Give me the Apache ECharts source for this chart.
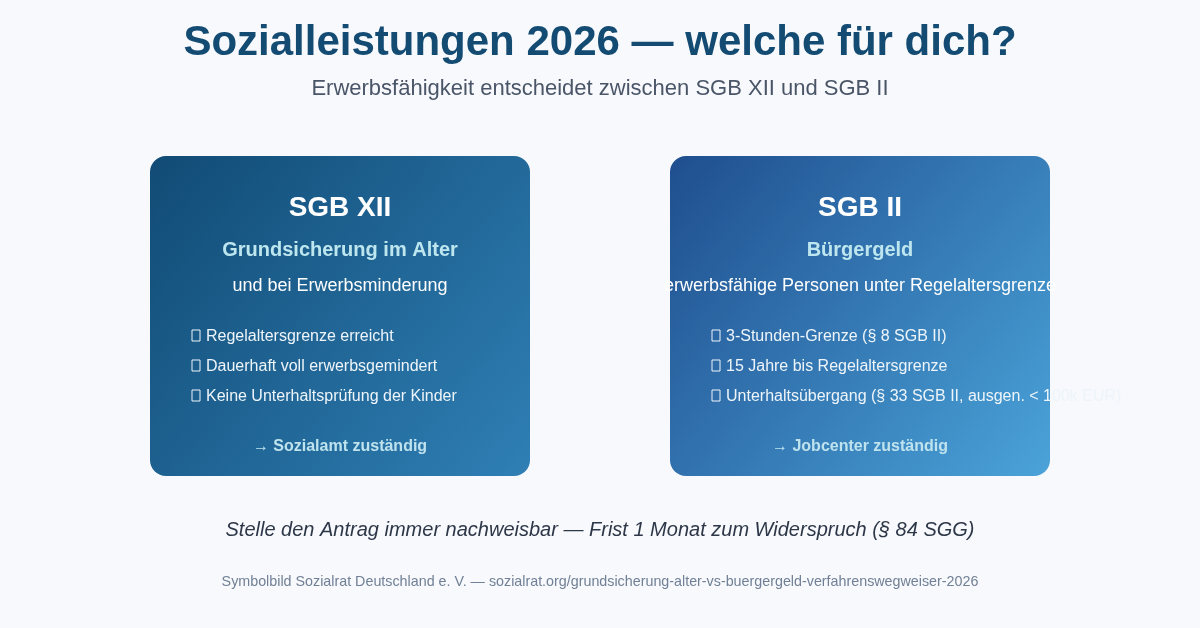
<!DOCTYPE html>
<html><head><meta charset="utf-8">
<script src="https://cdn.jsdelivr.net/npm/echarts@6/dist/echarts.min.js"></script>
<style>html,body{margin:0;padding:0;background:#f7f9fc}#c{width:1200px;height:628px}</style>
</head><body><div id="c"></div>
<script>
const title = "Sozialleistungen 2026 — welche für dich?";
const subtitle = "Erwerbsfähigkeit entscheidet zwischen SGB XII und SGB II";
const cardTitles = ["SGB XII", "SGB II"];
const cardSubtitles = ["Grundsicherung im Alter", "Bürgergeld"];
const cardLines = ["und bei Erwerbsminderung", "erwerbsfähige Personen unter Regelaltersgrenze"];
const bulletsLeft = ["Regelaltersgrenze erreicht", "Dauerhaft voll erwerbsgemindert", "Keine Unterhaltsprüfung der Kinder"];
const bulletsRight = ["3-Stunden-Grenze (§ 8 SGB II)", "15 Jahre bis Regelaltersgrenze", "Unterhaltsübergang (§ 33 SGB II, ausgen. < 100k EUR)"];
const cardFooters = ["→ Sozialamt zuständig", "→ Jobcenter zuständig"];
const note = "Stelle den Antrag immer nachweisbar — Frist 1 Monat zum Widerspruch (§ 84 SGG)";
const source = "Symbolbild Sozialrat Deutschland e. V. — sozialrat.org/grundsicherung-alter-vs-buergergeld-verfahrenswegweiser-2026";

const F = "'Liberation Sans', Arial, sans-serif";
const chart = echarts.init(document.getElementById('c'));
const els = [];
function txt(x, y, s, size, color, weight, align, style) {
  els.push({type:'text', x, y, style:{text:s, fontSize:size, fill:color, fontWeight:weight||'normal',
    fontStyle:style||'normal', fontFamily:F, align:align||'center', verticalAlign:'middle'}});
}
txt(600, 43, title, 42, '#134b73', 'bold');
txt(600, 89, subtitle, 22, '#4a5568');
const lefts = [150, 670];
const grads = [['#114b75','#2f7fb5'], ['#1f4e8e','#4aa3d9']];
const bullets = [bulletsLeft, bulletsRight];
for (let i = 0; i < 2; i++) {
  const x0 = lefts[i], cx = x0 + 190;
  els.push({type:'rect', shape:{x:x0, y:156, width:380, height:320, r:16},
    style:{fill:new echarts.graphic.LinearGradient(0,0,1,1,[{offset:0,color:grads[i][0]},{offset:1,color:grads[i][1]}])}});
  txt(cx, 208, cardTitles[i], 28, '#ffffff', 'bold');
  txt(cx, 250, cardSubtitles[i], 20, '#bde6ef', 'bold');
  txt(cx, 286, cardLines[i], 18, '#ffffff');
  bullets[i].forEach((b, j) => {
    els.push({type:'rect', shape:{x:x0 + 42, y:330 + j*30, width:8, height:11}, style:{fill:'none', stroke:'#eef5fa', lineWidth:1}});
    txt(x0 + 56, 337 + j*30, b, 16, '#eef5fa', 'normal', 'left');
  });
  txt(cx, 447, cardFooters[i], 16, '#bfe3ee', 'bold');
}
txt(600, 530, note, 20, '#2d3748', 'normal', 'center', 'italic');
txt(600, 582, source, 14.3, '#718096');
chart.setOption({backgroundColor:'#f7f9fc', graphic:{elements:els}});
</script></body></html>
